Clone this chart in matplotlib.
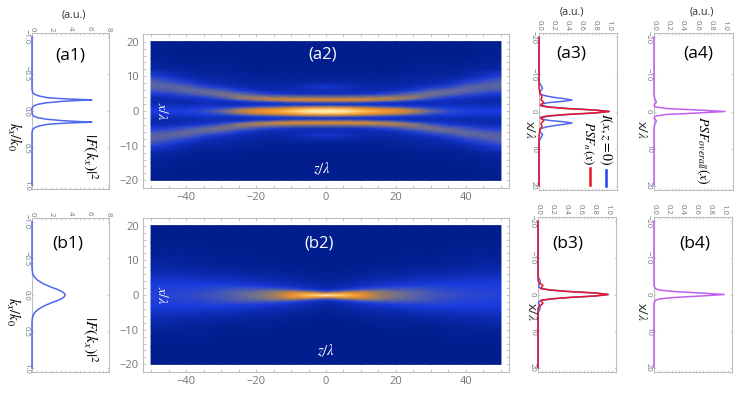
import numpy as np
import matplotlib
matplotlib.use('Agg')
from matplotlib import pyplot as plt
from matplotlib.colors import LinearSegmentedColormap

plt.rcParams['font.family'] = ['Open Sans', 'DejaVu Sans']
plt.rcParams['mathtext.fontset'] = 'stix'

W, H = 747, 394
GREY = '#bdbfbf'
TICK = '#6f7979'

# spectra, half of each symmetric curve
k_a1 = [0, .03, .05, .07, .09, .11, .13, .14, .15, .16, .17, .18, .2, .22, .24, .27, .3, 1]
f_a1 = [0, 0, .05, .2, .6, 1.5, 3.2, 4.6, 6.3, 4.2, 2.6, 1.6, .8, .35, .12, .02, 0, 0]
k_b1 = [0, .03, .05, .08, .1, .15, .2, .25, .3, .35, .4, 1]
f_b1 = [3.5, 3.35, 3.1, 2.6, 2.15, 1.25, .6, .22, .06, .01, 0, 0]

# cuts through the focus, half of each symmetric curve
x_cut = [0, .4, .8, 1.2, 1.6, 2, 2.4, 2.8, 3.1, 3.4, 3.8, 4.2, 4.6, 5, 5.5, 6.3, 7, 8, 20]
i_a3 = [1, .8, .42, .16, .03, .03, .14, .36, .47, .38, .22, .1, .03, .01, .02, .05, .03, 0, 0]
psf_a3 = [1, .78, .38, .12, .02, .04, .07, .05, .03, .03, .04, .04, .02, .01, .01, 0, 0, 0, 0]
psf_a4 = [1, .62, .18, .03, 0, .01, .03, .03, .02, .01, .01, 0, 0, 0, 0, 0, 0, 0, 0]
i_b3 = [1, .82, .45, .2, .05, .01, .01, .02, .03, .03, .03, .02, .01, 0, 0, 0, 0, 0, 0]
psf_b3 = [1, .82, .45, .18, .04, .05, .07, .05, .02, .01, 0, 0, 0, 0, 0, 0, 0, 0, 0]
psf_b4 = [1, .68, .3, .08, .02, .01, 0, 0, 0, 0, 0, 0, 0, 0, 0, 0, 0, 0, 0]

# intensity maps, one quadrant: rows are x/lambda, columns z/lambda
z_map = [0, 5, 10, 15, 20, 25, 30, 35, 40, 45, 50]
x_map = [0, .5, 1, 1.5, 2, 2.5, 3, 3.5, 4, 5, 6, 7, 8, 9, 10, 12, 15, 20]
map_a2 = [
    [1, .98, .9, .78, .68, .5, .27, .17, .13, .12, .12],
    [.93, .9, .8, .68, .58, .4, .22, .15, .12, .11, .11],
    [.72, .68, .58, .46, .36, .24, .15, .12, .1, .1, .1],
    [.28, .26, .22, .17, .13, .1, .09, .09, .08, .08, .08],
    [.08, .08, .08, .08, .08, .07, .07, .07, .06, .06, .06],
    [.2, .2, .18, .12, .09, .07, .06, .06, .05, .05, .05],
    [.52, .52, .5, .4, .26, .13, .09, .07, .06, .05, .05],
    [.58, .58, .56, .53, .46, .3, .15, .09, .07, .06, .05],
    [.33, .33, .36, .4, .43, .4, .24, .14, .1, .07, .06],
    [.07, .07, .08, .12, .18, .27, .33, .27, .2, .14, .12],
    [.06, .06, .05, .05, .07, .12, .22, .27, .27, .23, .2],
    [.1, .08, .05, .04, .04, .06, .1, .16, .25, .26, .25],
    [.05, .04, .03, .03, .03, .04, .05, .08, .16, .22, .25],
    [.02, .02, .02, .02, .02, .03, .04, .05, .09, .15, .22],
    [.01, .01, .01, .01, .02, .02, .03, .03, .05, .09, .14],
    [0, 0, 0, 0, 0, .01, .01, .01, .02, .03, .04],
    [0, 0, 0, 0, 0, 0, 0, 0, 0, .01, .01],
    [0, 0, 0, 0, 0, 0, 0, 0, 0, 0, 0],
]
map_b2 = [
    [1, .87, .68, .44, .32, .26, .21, .18, .16, .15, .14],
    [.68, .78, .64, .42, .31, .25, .21, .18, .16, .15, .14],
    [.22, .42, .5, .37, .28, .24, .2, .17, .15, .14, .14],
    [.09, .15, .26, .27, .24, .22, .19, .16, .15, .14, .13],
    [.05, .08, .13, .18, .19, .19, .17, .15, .14, .13, .13],
    [.04, .06, .09, .12, .14, .15, .15, .14, .13, .13, .12],
    [.03, .05, .07, .09, .11, .12, .13, .13, .12, .12, .12],
    [.03, .04, .06, .07, .09, .1, .11, .11, .11, .11, .11],
    [.02, .03, .05, .06, .07, .08, .09, .1, .1, .1, .1],
    [.01, .02, .03, .04, .05, .06, .07, .07, .08, .08, .08],
    [.01, .01, .02, .03, .03, .04, .05, .05, .06, .06, .07],
    [0, .01, .01, .02, .02, .03, .03, .04, .04, .05, .05],
    [0, 0, .01, .01, .01, .02, .02, .03, .03, .04, .04],
    [0, 0, 0, .01, .01, .01, .01, .02, .02, .03, .03],
    [0, 0, 0, 0, .01, .01, .01, .01, .02, .02, .02],
    [0, 0, 0, 0, 0, 0, 0, .01, .01, .01, .01],
    [0, 0, 0, 0, 0, 0, 0, 0, 0, 0, 0],
    [0, 0, 0, 0, 0, 0, 0, 0, 0, 0, 0],
]

cmap = LinearSegmentedColormap.from_list('sunset', [
    (0, '#021e8e'), (.12, '#1a3ce0'), (.3, '#73738c'), (.45, '#a57d5a'),
    (.6, '#e1872d'), (.8, '#faa532'), (1, '#fff5b9')])


def mirror(x, y):
    x = np.array(x)
    y = np.array(y)
    return np.concatenate([-x[:0:-1], x]), np.concatenate([y[:0:-1], y])


def axes_px(left, top, right, bottom):
    return fig.add_axes([left / W, 1 - bottom / H, (right - left) / W, (bottom - top) / H])


def style(ax):
    for s in ax.spines.values():
        s.set_color(GREY)
        s.set_linewidth(.8)


def line_panel(box, xmax, xticks, xminor, ylim, yticks, ylabels, curves):
    ax = axes_px(*box)
    for pos, val, color in curves:
        p, v = mirror(pos, val)
        ax.plot(v, p, color=color, lw=1.1, clip_on=False, zorder=5)
    ax.set_xlim(0, xmax)
    ax.set_ylim(ylim, -ylim)
    ax.xaxis.tick_top()
    ax.set_xticks(xticks)
    ax.set_xticks(xminor, minor=True)
    ax.set_xticklabels(['%g' % t if xmax > 2 else '%.1f' % t for t in xticks], rotation=270)
    ax.set_yticks(yticks)
    ax.set_yticklabels(ylabels, rotation=270, va='center')
    ax.tick_params(which='both', direction='in', top=True, bottom=True, left=True, right=True,
                   color=GREY, labelcolor=TICK, labelsize=5.6, length=1.5, width=.5, pad=1.5)
    style(ax)
    return ax


def map_panel(box, data, labels):
    ax = axes_px(*box)
    z = np.concatenate([-np.array(z_map)[:0:-1], z_map])
    x = np.concatenate([-np.array(x_map)[:0:-1], x_map])
    d = np.array(data)
    d = np.hstack([d[:, :0:-1], d])
    d = np.vstack([d[:0:-1], d])
    ax.pcolormesh(z, x, d, cmap=cmap, vmin=0, vmax=1, shading='gouraud')
    ax.set_xlim(-52.3, 52.3)
    ax.set_ylim(-22.2, 22.2)
    ax.set_xticks([-40, -20, 0, 20, 40])
    ax.set_xticks(np.arange(-50, 51, 5), minor=True)
    ax.set_xticklabels(['\u221240', '\u221220', '0', '20', '40'])
    ax.set_yticks([-20, -10, 0, 10, 20])
    ax.set_yticks(np.arange(-20, 21, 2), minor=True)
    ax.set_yticklabels(['\u221220', '\u221210', '0', '10', '20'])
    ax.tick_params(which='both', direction='in', top=True, right=True, color=GREY,
                   labelcolor=TICK, labelsize=8, length=2, width=.6, pad=3)
    style(ax)
    ax.text(labels[0], labels[1], labels[2], color='white', fontsize=12, ha='center', va='center')
    ax.text(labels[3], labels[4], r'$z/\lambda$', color='white', fontsize=10.5, ha='center', va='center')
    ax.text(-47, 0, r'$x/\lambda$', color='white', fontsize=10, rotation=270, ha='center', va='center')


def label(px, py, s, size=8, rot=270, **kw):
    fig.text(px / W, 1 - py / H, s, fontsize=size, rotation=rot, ha='center', va='center', **kw)


fig = plt.figure(figsize=(W / 100, H / 100), dpi=100)

BLUE = '#5068f0'
RED = '#eb1428'
PURPLE = '#c060f0'
k_t = [-1, -.5, 0, .5, 1]
k_l = ['\u22121.0', '\u22120.5', '0.0', '0.5', '1.0']
x_t = [-20, -10, 0, 10, 20]
x_l = ['\u221220', '\u221210', '0', '10', '20']
up_t = [0, .2, .4, .6, .8, 1]
up_m = np.arange(0, 1.1, .05)
f_t = [0, 2, 4, 6, 8]
f_m = np.arange(0, 8.1, .5)

line_panel((32, 33, 109, 189), 8.1, f_t, f_m, 1.05, k_t, k_l, [(k_a1, f_a1, BLUE)])
line_panel((32, 218, 109, 372), 8.1, f_t, f_m, 1.05, k_t, k_l, [(k_b1, f_b1, BLUE)])
line_panel((539, 33, 617, 190), 1.11, up_t, up_m, 21.2, x_t, x_l,
           [(x_cut, i_a3, BLUE), (x_cut, psf_a3, RED)])
line_panel((654, 33, 733, 190), 1.11, up_t, up_m, 21.2, x_t, x_l, [(x_cut, psf_a4, PURPLE)])
line_panel((538, 217, 616, 372), 1.11, up_t, up_m, 21.2, x_t, x_l,
           [(x_cut, i_b3, BLUE), (x_cut, psf_b3, RED)])
line_panel((654, 217, 732, 372), 1.11, up_t, up_m, 21.2, x_t, x_l, [(x_cut, psf_b4, PURPLE)])

map_panel((143, 34, 509, 188), map_a2, (-1, 16.4, '(a2)', -1, -16.7))
map_panel((143, 218, 509, 372), map_b2, (-2, 14.8, '(b2)', 0, -16.3))

# legend strokes of panel a3
fig.add_artist(plt.Line2D([606 / W, 606 / W], [1 - 170 / H, 1 - 186 / H], color='#2040f0', lw=1.8))
fig.add_artist(plt.Line2D([590 / W, 590 / W], [1 - 168 / H, 1 - 185 / H], color=RED, lw=1.8))

for px, py in [(74, 15), (572, 12), (702, 12)]:
    label(px, py, '(a.u.)', size=7.8, rot=0, color='#333333')
for px, py, s in [(70, 55, '(a1)'), (68, 243, '(b1)'), (571, 54, '(a3)'), (698, 54, '(a4)'),
                  (568, 243, '(b3)'), (695, 243, '(b4)')]:
    label(px, py, s, size=12.5, rot=0, color='black')

label(90, 157, r'$|F(k_x)|^2$', size=11.5)
label(90, 340, r'$|F(k_x)|^2$', size=11.5)
label(14, 137, r'$k_x/k_0$', size=10.5)
label(13, 312, r'$k_x/k_0$', size=10.5)
label(606, 139, r'$I(x,z=0)$', size=10)
label(588, 143, r'$PSF_n(x)$', size=9.5)
label(703, 150, r'$PSF_{overall}(x)$', size=10)
for px, py in [(530, 130), (641, 130), (531, 312), (641, 312)]:
    label(px, py, r'x/$\lambda$', size=9.5, color='#222222')

fig.savefig('out.png', dpi=100)
